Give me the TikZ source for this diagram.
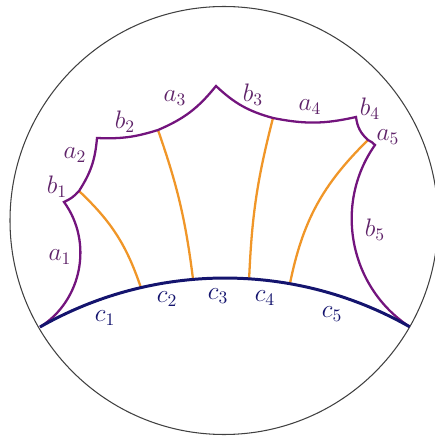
\documentclass[tikz,border=0pt]{standalone}
\usepackage{amsmath, amssymb}
\usepackage{xcolor}
\definecolor{sidepurple}{RGB}{115, 20, 125}
\definecolor{labpurple}{RGB}{95, 35, 105}
\definecolor{basenavy}{RGB}{20, 20, 110}
\definecolor{chordorange}{RGB}{240, 150, 40}
\usetikzlibrary{
  arrows.meta,
  positioning
}

\begin{document}
\begin{tikzpicture}[x=0.02cm, y=0.02cm,
  side/.style={sidepurple, line width=1.3pt},
  base/.style={basenavy, line width=1.7pt},
  chord/.style={chordorange, line width=1.3pt},
  lab/.style={font=\Large, text=labpurple, inner sep=1pt},
  clab/.style={font=\Large, text=basenavy, inner sep=1pt}]
  \useasboundingbox (0,0) rectangle (435,437);

  % the disc
  \draw[black!75, line width=0.6pt] (224,216.5) circle[radius=214];

  % corners of the polygon
  \coordinate (v0) at (40,110);
  \coordinate (v1) at (64,235);
  \coordinate (p1) at (79,246);
  \coordinate (v2) at (97,299);
  \coordinate (p2) at (158,307);
  \coordinate (v3) at (216,351);
  \coordinate (p3) at (273,319);
  \coordinate (v4) at (356,320);
  \coordinate (p4) at (368,297);
  \coordinate (v5) at (375,292);
  \coordinate (v6) at (409.6,110.3);

  % feet of the orange arcs on the base
  \coordinate (q1) at ([shift={(225,-215)}]103:374);
  \coordinate (q2) at ([shift={(225,-215)}]94.9:374);
  \coordinate (q3) at ([shift={(225,-215)}]86.3:374);
  \coordinate (q4) at ([shift={(225,-215)}]80:374);

  % orange arcs
  \draw[chord] (p1) to[bend left=14] (q1);
  \draw[chord] (p2) to[bend left=6] (q2);
  \draw[chord] (p3) to[bend right=6] (q3);
  \draw[chord] (p4) to[bend right=17] (q4);

  % purple sides
  \draw[side] (v0) to[bend right=47] (v1) to[bend right=12] (p1)
    to[bend right=14] (v2) to[bend right=10] (p2) to[bend right=14] (v3)
    to[bend right=14] (p3) to[bend right=12] (v4) to[bend right=20] (p4)
    to[bend left=10] (v5) to[bend right=46] (v6);

  % base
  \draw[base] (v0) arc[start angle=119.65, end angle=60.43, radius=374];

  % labels
  \node[lab] (la1) at (60,180) {$a_1$};
  \node[lab] (lb1) at (57,250) {$b_1$};
  \node[lab] (la2) at (75,282) {$a_2$};
  \node[lab] (lb2) at (125,315) {$b_2$};
  \node[lab] (la3) at (175,339) {$a_3$};
  \node[lab] (lb3) at (253,342) {$b_3$};
  \node[lab] (la4) at (310,330) {$a_4$};
  \node[lab] (lb4) at (370,328) {$b_4$};
  \node[lab] (la5) at (388,300) {$a_5$};
  \node[lab] (lb5) at (375,207) {$b_5$};
  \node[clab] (lc1) at (105,119) {$c_1$};
  \node[clab] (lc2) at (167,138) {$c_2$};
  \node[clab] (lc3) at (218,141) {$c_3$};
  \node[clab] (lc4) at (265,139) {$c_4$};
  \node[clab] (lc5) at (332,123) {$c_5$};

\end{tikzpicture}
\end{document}
